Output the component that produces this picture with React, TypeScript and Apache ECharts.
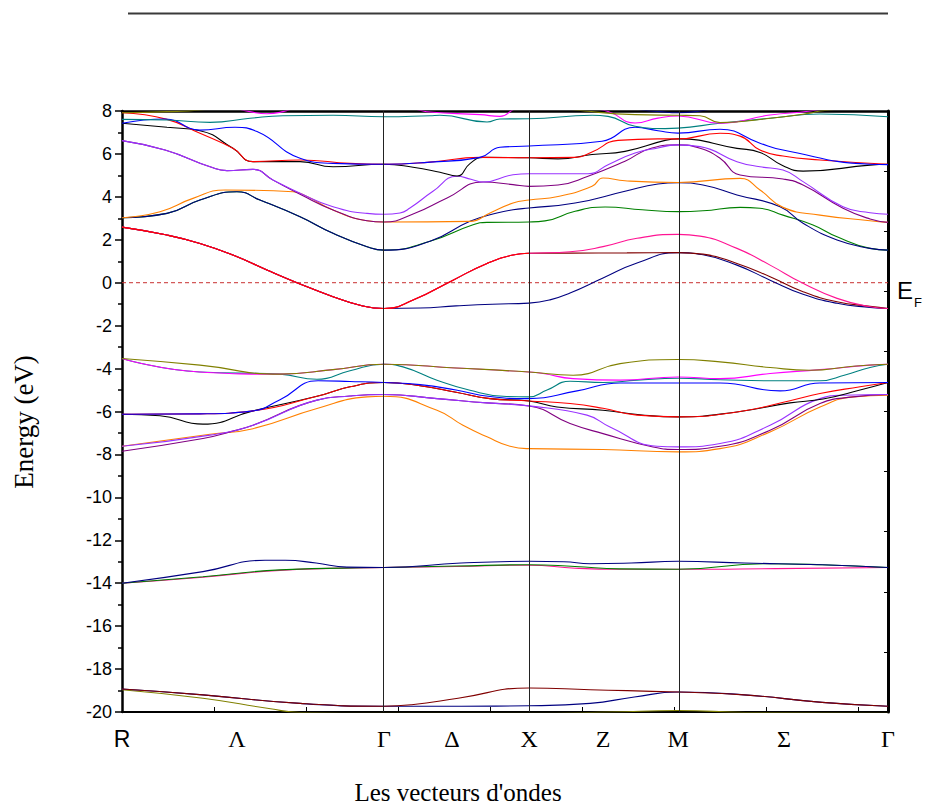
import { useEffect, useRef } from 'react';
import * as echarts from 'echarts';

// Path coordinate (2π/a) of the high-symmetry points R, Γ, X, M, Γ
const K_SYM = [0, 1.764, 2.741, 3.745, 5.158];
// Where the point / line labels sit along the path
const K_LABEL_POS = [0, 0.774, 1.764, 2.222, 2.741, 3.239, 3.745, 4.458, 5.158];
const K_LABELS = ['R', 'Λ', 'Γ', 'Δ', 'X', 'Z', 'M', 'Σ', 'Γ'];
const K_SANS_LABELS = ['R'];
// Small ticks on the k axis
const K_TICKS = [0.62, 1.239, 1.859, 2.478, 3.098, 3.717, 4.337, 4.956];

const E_MIN = -20;
const E_MAX = 8;
const E_STEP = 2;
const E_FERMI = 0;

// ---- semicore bands (-19 … -20 eV)
const S_OLIVE = [[0, -18.96], [0.545, -19.36], [1.0, -19.85], [1.199, -20.02], [1.764, -20.06], [2.741, -20.06], [3.3, -20.0], [3.744, -19.93], [4.2, -20.02], [5.158, -20.06]];
const S_NAVY = [[0, -18.93], [0.545, -19.2], [1.199, -19.6], [1.764, -19.73], [2.283, -19.73], [2.741, -19.71], [3.152, -19.6], [3.45, -19.3], [3.744, -19.07], [4.189, -19.2], [4.714, -19.55], [5.158, -19.73]];
const S_MAROON = [[0, -18.93], [0.545, -19.2], [1.199, -19.6], [1.764, -19.73], [1.95, -19.66], [2.263, -19.36], [2.741, -18.88], [3.152, -18.96], [3.744, -19.07], [4.189, -19.2], [4.714, -19.55], [5.158, -19.73]];

// ---- bands around -13 eV
const P_PINK = [[0, -14.0], [0.545, -13.72], [1.064, -13.4], [1.764, -13.27], [2.25, -13.22], [2.741, -13.16], [3.05, -13.3], [3.35, -13.35], [3.744, -13.35], [4.4, -13.32], [5.158, -13.27]];
const P_GREEN = [[0, -14.0], [0.545, -13.7], [1.064, -13.38], [1.764, -13.27], [2.25, -13.2], [2.741, -13.14], [3.05, -13.22], [3.35, -13.33], [3.744, -13.35], [4.33, -13.09], [4.714, -13.14], [5.158, -13.27]];
const P_NAVY = [[0, -14.0], [0.545, -13.46], [0.963, -12.93], [1.1, -12.93], [1.307, -13.06], [1.515, -13.25], [1.764, -13.27], [2.283, -13.06], [2.741, -12.98], [2.976, -13.0], [3.152, -13.09], [3.428, -13.06], [3.744, -12.98], [4.189, -13.06], [4.714, -13.14], [5.158, -13.27]];

// ---- valence bands (-3.5 … -8 eV)
const V_OLIVE = [[0, -3.53], [0.525, -3.84], [1.064, -4.26], [1.421, -4.05], [1.764, -3.8], [2.249, -3.97], [2.741, -4.16], [3.037, -4.31], [3.354, -3.77], [3.744, -3.58], [4.027, -3.69], [4.364, -3.95], [4.633, -4.08], [4.923, -3.89], [5.158, -3.8]];
const V_MAGENTA = [[0, -3.53], [0.525, -4.16], [1.064, -4.26], [1.421, -4.05], [1.764, -3.8], [2.249, -3.97], [2.741, -4.16], [2.835, -4.23], [3.037, -4.47], [3.354, -4.54], [3.744, -4.39], [4.027, -4.47], [4.364, -4.23], [4.7, -4.05], [5.037, -3.84], [5.158, -3.8]];
const V_TEAL = [[0, -3.53], [0.525, -4.16], [1.064, -4.26], [1.313, -4.5], [1.535, -4.1], [1.764, -3.8], [1.892, -3.92], [2.121, -4.54], [2.343, -5.01], [2.566, -5.29], [2.741, -5.32], [2.862, -5.0], [3.017, -4.59], [3.239, -4.65], [3.468, -4.54], [3.744, -4.45], [4.027, -4.52], [4.431, -4.57], [4.7, -4.57], [4.869, -4.3], [5.037, -3.95], [5.158, -3.8]];
const V_BLUE = [[0, -6.13], [0.525, -6.11], [0.882, -5.97], [1.064, -5.45], [1.32, -4.57], [1.535, -4.6], [1.764, -4.65], [2.007, -4.75], [2.249, -5.0], [2.478, -5.3], [2.741, -5.4], [3.064, -5.04], [3.354, -4.67], [3.744, -4.67], [4.027, -4.67], [4.431, -5.04], [4.7, -4.67], [5.158, -4.65]];
const V_BLACK = [[0, -6.13], [0.256, -6.2], [0.545, -6.59], [0.882, -5.97], [1.313, -5.29], [1.535, -4.85], [1.764, -4.65], [2.007, -4.8], [2.249, -5.1], [2.478, -5.4], [2.741, -5.51], [2.929, -5.79], [3.239, -5.94], [3.488, -6.15], [3.744, -6.25], [4.141, -6.02], [4.498, -5.6], [4.721, -5.42], [4.97, -5.0], [5.158, -4.65]];
const V_RED = [[0, -6.13], [0.525, -6.11], [0.882, -5.97], [1.313, -5.29], [1.535, -4.85], [1.764, -4.65], [2.007, -4.8], [2.249, -5.1], [2.478, -5.4], [2.741, -5.51], [3.017, -5.63], [3.239, -5.85], [3.468, -6.17], [3.744, -6.25], [4.141, -6.02], [4.498, -5.5], [4.7, -5.16], [4.97, -4.85], [5.158, -4.65]];
const V_ORANGE = [[0, -7.62], [0.593, -7.06], [0.882, -6.8], [1.313, -5.86], [1.65, -5.32], [1.764, -5.29], [2.121, -5.94], [2.296, -6.64], [2.458, -7.18], [2.613, -7.62], [2.741, -7.73], [3.239, -7.77], [3.744, -7.88], [4.027, -7.73], [4.364, -6.95], [4.7, -5.79], [4.923, -5.32], [5.158, -5.24]];
const V_DPURPLE = [[0, -7.85], [0.545, -7.26], [0.727, -6.95], [0.882, -6.64], [1.313, -5.47], [1.535, -5.28], [1.764, -5.21], [2.121, -5.4], [2.458, -5.6], [2.741, -5.74], [3.017, -6.56], [3.239, -7.03], [3.576, -7.65], [3.744, -7.77], [4.027, -7.62], [4.364, -6.87], [4.7, -5.63], [4.923, -5.32], [5.158, -5.21]];
const V_VIOLET = [[0, -7.62], [0.593, -7.1], [0.882, -6.64], [1.313, -5.47], [1.535, -5.28], [1.764, -5.21], [2.121, -5.4], [2.458, -5.6], [2.741, -5.74], [3.131, -6.17], [3.286, -6.72], [3.603, -7.62], [3.744, -7.65], [4.027, -7.49], [4.364, -6.64], [4.7, -5.4], [4.855, -5.24], [5.158, -5.21]];

// ---- bands crossing the Fermi level
const F_NAVY = [[0, 2.59], [0.303, 2.22], [0.525, 1.83], [0.747, 1.29], [0.976, 0.59], [1.178, 0.0], [1.421, -0.65], [1.603, -1.05], [1.764, -1.2], [2.007, -1.18], [2.249, -1.08], [2.492, -1.0], [2.741, -0.95], [2.882, -0.8], [3.017, -0.48], [3.239, 0.22], [3.468, 0.92], [3.744, 1.4], [3.912, 1.3], [4.141, 0.82], [4.364, 0.12], [4.586, -0.54], [4.815, -0.96], [5.037, -1.15], [5.158, -1.2]];
const F_MAROON = [[0, 2.59], [0.303, 2.22], [0.525, 1.83], [0.747, 1.29], [0.976, 0.59], [1.178, 0.0], [1.421, -0.65], [1.603, -1.05], [1.764, -1.2], [1.96, -0.81], [2.229, 0.12], [2.458, 0.9], [2.633, 1.29], [2.741, 1.37], [3.017, 1.38], [3.4, 1.39], [3.744, 1.4], [3.912, 1.33], [4.141, 0.9], [4.364, 0.28], [4.586, -0.42], [4.815, -0.89], [5.037, -1.1], [5.158, -1.2]];
const F_PINK = [[0, 2.59], [0.303, 2.22], [0.525, 1.83], [0.747, 1.29], [0.976, 0.59], [1.178, 0.0], [1.421, -0.65], [1.603, -1.05], [1.764, -1.2], [1.96, -0.81], [2.229, 0.12], [2.458, 0.9], [2.633, 1.29], [2.741, 1.37], [3.017, 1.44], [3.239, 1.68], [3.468, 2.07], [3.744, 2.25], [3.892, 2.17], [4.141, 1.6], [4.364, 0.82], [4.586, -0.03], [4.815, -0.73], [5.037, -1.12], [5.158, -1.2]];
const F_RED = [[0, 2.59], [0.303, 2.22], [0.525, 1.83], [0.747, 1.29], [0.976, 0.59], [1.178, 0.0], [1.421, -0.65], [1.603, -1.05], [1.764, -1.2], [1.96, -0.81], [2.229, 0.12], [2.458, 0.9], [2.633, 1.29], [2.741, 1.37]];

// ---- conduction bands (1.5 … 8 eV)
const C_GREEN = [[0, 3.03], [0.303, 3.23], [0.525, 3.85], [0.774, 4.24], [0.929, 3.85], [1.199, 3.07], [1.421, 2.3], [1.65, 1.68], [1.764, 1.52], [2.074, 1.93], [2.364, 2.7], [2.458, 2.81], [2.741, 2.83], [2.848, 2.88], [3.051, 3.33], [3.253, 3.53], [3.502, 3.4], [3.744, 3.31], [3.912, 3.35], [4.162, 3.51], [4.296, 3.47], [4.451, 3.15], [4.653, 2.69], [4.815, 2.14], [5.037, 1.6], [5.158, 1.52]];
const C_NAVY = [[0, 3.03], [0.303, 3.23], [0.525, 3.85], [0.774, 4.24], [0.929, 3.85], [1.199, 3.07], [1.421, 2.3], [1.65, 1.68], [1.764, 1.52], [2.074, 1.93], [2.343, 2.86], [2.525, 3.25], [2.633, 3.4], [2.741, 3.48], [3.051, 3.71], [3.387, 4.26], [3.609, 4.6], [3.744, 4.66], [3.912, 4.55], [4.141, 4.09], [4.431, 3.54], [4.586, 2.77], [4.815, 1.99], [5.037, 1.6], [5.158, 1.52]];
const C_ORANGE = [[0, 3.03], [0.256, 3.31], [0.478, 3.93], [0.694, 4.32], [1.152, 4.24], [1.25, 4.0], [1.421, 3.39], [1.65, 2.89], [1.764, 2.83], [2.343, 2.86], [2.478, 3.25], [2.633, 3.71], [2.741, 3.85], [2.936, 4.02], [3.165, 4.49], [3.239, 4.88], [3.387, 4.75], [3.744, 4.67], [4.162, 4.86], [4.296, 4.32], [4.451, 3.51], [4.7, 3.15], [5.037, 2.89], [5.158, 2.81]];
const C_DPURPLE = [[0, 6.62], [0.29, 6.18], [0.593, 5.4], [0.707, 5.22], [0.882, 5.28], [1.017, 4.78], [1.199, 4.12], [1.421, 3.39], [1.65, 2.89], [1.764, 2.83], [1.96, 3.2], [2.189, 3.95], [2.431, 4.69], [2.633, 4.57], [2.741, 4.49], [2.936, 4.55], [3.138, 4.96], [3.387, 5.66], [3.569, 6.28], [3.744, 6.42], [3.892, 6.26], [4.027, 5.8], [4.162, 5.02], [4.451, 4.83], [4.586, 4.55], [4.855, 3.47], [5.037, 2.97], [5.158, 2.81]];
const C_VIOLET = [[0, 6.62], [0.29, 6.18], [0.593, 5.4], [0.707, 5.22], [0.882, 5.28], [1.017, 4.78], [1.199, 4.17], [1.421, 3.54], [1.65, 3.23], [1.764, 3.19], [1.872, 3.25], [1.939, 3.48], [2.094, 4.26], [2.256, 4.96], [2.35, 4.82], [2.431, 4.69], [2.633, 5.03], [2.741, 5.08], [3.138, 5.08], [3.273, 5.5], [3.455, 6.04], [3.609, 6.28], [3.744, 6.42], [3.892, 6.34], [4.141, 5.64], [4.296, 5.4], [4.451, 5.25], [4.586, 4.71], [4.855, 3.54], [5.037, 3.26], [5.158, 3.19]];
const C_BLACK = [[0, 7.43], [0.303, 7.24], [0.525, 7.08], [0.747, 6.26], [0.882, 5.64], [1.199, 5.64], [1.421, 5.4], [1.764, 5.52], [1.96, 5.38], [2.141, 5.15], [2.256, 4.97], [2.343, 5.55], [2.431, 5.84], [2.741, 5.82], [2.936, 5.77], [3.165, 5.97], [3.387, 6.12], [3.657, 6.63], [3.744, 6.7], [4.141, 6.26], [4.296, 6.07], [4.451, 5.45], [4.586, 5.2], [5.037, 5.48], [5.158, 5.52]];
const C_RED = [[0, 7.92], [0.303, 7.61], [0.525, 6.96], [0.747, 6.26], [0.882, 5.64], [1.199, 5.72], [1.535, 5.56], [1.764, 5.52], [2.074, 5.62], [2.411, 5.84], [2.741, 5.82], [3.051, 5.84], [3.165, 6.09], [3.34, 6.63], [3.609, 6.7], [3.744, 6.7], [4.027, 6.96], [4.162, 6.83], [4.296, 6.18], [4.451, 5.9], [4.7, 5.72], [5.158, 5.52]];
const C_BLUE = [[0, 7.43], [0.29, 7.63], [0.525, 7.11], [0.761, 7.24], [0.909, 7.04], [1.199, 5.8], [1.421, 5.56], [1.764, 5.52], [2.074, 5.62], [2.411, 5.84], [2.545, 6.31], [2.741, 6.37], [3.232, 6.59], [3.455, 7.24], [3.609, 7.08], [3.744, 6.97], [4.027, 7.15], [4.296, 6.5], [4.451, 6.18], [5.037, 5.52], [5.158, 5.5]];
const C_TEAL = [[0, 7.61], [0.303, 7.58], [0.593, 7.47], [0.862, 7.66], [1.084, 7.78], [1.421, 7.8], [1.764, 7.73], [2.074, 7.78], [2.141, 7.8], [2.458, 7.49], [2.545, 7.63], [2.741, 7.64], [3.165, 7.8], [3.273, 7.75], [3.455, 7.29], [3.657, 7.18], [3.744, 7.2], [4.027, 7.43], [4.364, 7.66], [4.7, 7.86], [5.158, 7.73]];
const C_MAGENTA = [[0, 8.6], [0.7, 8.2], [0.862, 7.97], [0.976, 7.87], [1.084, 7.97], [1.25, 8.3], [1.764, 8.4], [2.0, 8.05], [2.074, 7.95], [2.411, 7.83], [2.545, 7.75], [2.646, 8.1], [2.8, 8.4], [3.118, 8.15], [3.273, 7.98], [3.455, 7.44], [3.609, 7.67], [3.744, 7.77], [4.027, 7.43], [4.364, 7.81], [4.633, 8.0], [4.9, 8.3], [5.158, 8.4]];
const C_OLIVE = [[0, 7.92], [0.303, 7.97], [0.525, 8.05], [1.0, 8.4], [1.764, 8.5], [2.741, 8.3], [3.118, 8.0], [3.455, 7.83], [3.744, 7.8], [3.892, 7.78], [4.027, 7.46], [4.364, 7.66], [4.633, 7.9], [4.7, 8.0], [5.158, 8.3]];
const C_NAVY_TOP = [[3.3, 8.3], [3.5, 8.05], [3.623, 7.97], [3.744, 7.92], [3.892, 8.0], [4.027, 8.2]];

// Drawing order: later entries are painted on top
const BANDS = [
  { data: S_OLIVE, color: '#808000' },
  { data: S_NAVY, color: '#000080' },
  { data: S_MAROON, color: '#800000' },
  { data: P_PINK, color: '#ff1493' },
  { data: P_GREEN, color: '#008000' },
  { data: P_NAVY, color: '#000080' },
  { data: V_ORANGE, color: '#ff8000' },
  { data: V_DPURPLE, color: '#800080' },
  { data: V_VIOLET, color: '#9933ff' },
  { data: V_BLACK, color: '#000000' },
  { data: V_RED, color: '#ff0000' },
  { data: V_BLUE, color: '#0000ff' },
  { data: V_TEAL, color: '#008080' },
  { data: V_MAGENTA, color: '#ff00ff' },
  { data: V_OLIVE, color: '#808000' },
  { data: F_NAVY, color: '#000080' },
  { data: F_MAROON, color: '#800000' },
  { data: F_PINK, color: '#ff1493' },
  { data: F_RED, color: '#ff0000' },
  { data: C_GREEN, color: '#008000' },
  { data: C_NAVY, color: '#000080' },
  { data: C_ORANGE, color: '#ff8000' },
  { data: C_DPURPLE, color: '#800080' },
  { data: C_VIOLET, color: '#9933ff' },
  { data: C_BLACK, color: '#000000' },
  { data: C_RED, color: '#ff0000' },
  { data: C_BLUE, color: '#0000ff' },
  { data: C_TEAL, color: '#008080' },
  { data: C_MAGENTA, color: '#ff00ff' },
  { data: C_OLIVE, color: '#808000' },
  { data: C_NAVY_TOP, color: '#000080' },
];

const SANS = '"Liberation Sans", Arial, sans-serif';
const SERIF = '"Liberation Serif", "Times New Roman", serif';

export default function App() {
  const ref = useRef<HTMLDivElement>(null);

  useEffect(() => {
    if (!ref.current) return;
    const chart = echarts.init(ref.current, undefined, { renderer: 'svg' });
    const kMax = K_SYM[K_SYM.length - 1];

    const bandSeries = BANDS.map((b, i) => ({
      name: 'band' + i,
      type: 'line',
      data: b.data,
      showSymbol: false,
      smooth: 0.5,
      clip: true,
      silent: true,
      lineStyle: { color: b.color, width: 1.1 },
      z: 2,
    }));

    const option = {
      animation: false,
      backgroundColor: '#ffffff',
      grid: { left: 122, right: 37, top: 111, bottom: 95, containLabel: false },
      xAxis: [
        {
          type: 'value',
          min: 0,
          max: kMax,
          position: 'bottom',
          axisLine: { show: true, onZero: false, lineStyle: { color: '#000', width: 2 } },
          axisTick: { show: true, inside: true, length: 5, customValues: K_TICKS, lineStyle: { color: '#000', width: 1 } },
          splitLine: { show: false },
          axisLabel: {
            show: true,
            customValues: K_LABEL_POS,
            margin: 15,
            color: '#000',
            formatter: (v: number) => {
              const i = K_LABEL_POS.findIndex((p) => Math.abs(p - v) < 1e-6);
              if (i < 0) return '';
              const t = K_LABELS[i];
              return K_SANS_LABELS.includes(t) ? `{s|${t}}` : `{g|${t}}`;
            },
            rich: {
              s: { fontFamily: SANS, fontSize: 23, color: '#000' },
              g: { fontFamily: SERIF, fontSize: 24, color: '#000' },
            },
          },
        },
        {
          type: 'value',
          min: 0,
          max: kMax,
          position: 'top',
          axisLine: { show: true, onZero: false, lineStyle: { color: '#000', width: 2.5 } },
          axisTick: { show: false },
          axisLabel: { show: false },
          splitLine: { show: false },
        },
      ],
      yAxis: [
        {
          type: 'value',
          min: E_MIN,
          max: E_MAX,
          interval: E_STEP,
          axisLine: { show: true, onZero: false, lineStyle: { color: '#000', width: 2.5 } },
          axisTick: { show: true, inside: false, length: 7, lineStyle: { color: '#000', width: 1.5 } },
          minorTick: { show: true, splitNumber: 2, length: 4, lineStyle: { color: '#000', width: 1.5 } },
          splitLine: { show: false },
          axisLabel: { color: '#000', fontFamily: SANS, fontSize: 18, margin: 10 },
        },
        {
          type: 'value',
          min: 0,
          max: 10,
          interval: 1,
          position: 'right',
          axisLine: { show: true, onZero: false, lineStyle: { color: '#000', width: 3 } },
          axisTick: { show: true, inside: true, length: 4, lineStyle: { color: '#000', width: 1 } },
          axisLabel: { show: false },
          splitLine: { show: false },
        },
      ],
      series: [
        {
          name: 'fermi',
          type: 'line',
          data: [[0, E_FERMI], [kMax, E_FERMI]],
          showSymbol: false,
          silent: true,
          lineStyle: { color: '#c83030', width: 1, type: [4, 3] },
          z: 1,
          markLine: {
            silent: true,
            symbol: 'none',
            label: { show: false },
            lineStyle: { color: '#222', width: 1, type: 'solid' },
            data: K_SYM.slice(1, -1).map((k) => ({ xAxis: k })),
          },
        },
        ...bandSeries,
      ],
      graphic: [
        {
          type: 'line',
          shape: { x1: 128, y1: 13.5, x2: 888, y2: 13.5 },
          style: { stroke: '#3a3a3a', lineWidth: 2 },
        },
        {
          type: 'text',
          x: 24,
          y: 422,
          rotation: Math.PI / 2,
          style: {
            text: 'Energy (eV)',
            fontFamily: SERIF,
            fontSize: 27,
            fill: '#000',
            textAlign: 'center',
            textVerticalAlign: 'middle',
          },
        },
        {
          type: 'text',
          x: 458,
          y: 792,
          style: {
            text: "Les vecteurs d'ondes",
            fontFamily: SERIF,
            fontSize: 25,
            fill: '#000',
            textAlign: 'center',
            textVerticalAlign: 'middle',
          },
        },
        {
          type: 'text',
          x: 897,
          y: 290,
          style: { text: 'E', fontFamily: SANS, fontSize: 24, fill: '#000', textAlign: 'left', textVerticalAlign: 'middle' },
        },
        {
          type: 'text',
          x: 914,
          y: 302,
          style: { text: 'F', fontFamily: SANS, fontSize: 13, fill: '#000', textAlign: 'left', textVerticalAlign: 'middle' },
        },
      ],
    };

    chart.setOption(option as any);
    return () => chart.dispose();
  }, []);

  return (
    <div
      ref={ref}
      style={{ position: 'fixed', left: 0, top: 0, width: 925, height: 807, background: '#fff' }}
    />
  );
}
